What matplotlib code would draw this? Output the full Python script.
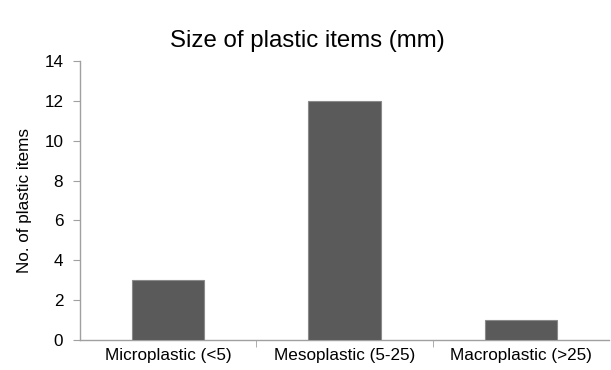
import matplotlib.pyplot as plt
import numpy as np

plt.rcParams['font.family'] = ['Liberation Sans', 'DejaVu Sans']

categories = ['Microplastic (<5)', 'Mesoplastic (5-25)', 'Macroplastic (>25)']
counts = [3, 12, 1]
yticks = [0, 2, 4, 6, 8, 10, 12, 14]

fig = plt.figure(figsize=(6.11, 3.70), dpi=100)
ax = fig.add_axes([0.131, 0.081, 0.866, 0.754])

x = np.arange(len(categories))
ax.bar(x, counts, width=0.41, color='#5a5a5a', edgecolor='#8a8a8a', linewidth=0.8, zorder=3)

ax.set_xlim(-0.5, len(categories) - 0.5)
ax.set_ylim(0, 14)
ax.set_yticks(yticks)
ax.set_xticks(x)
ax.set_xticklabels(categories, fontsize=12.3)
ax.tick_params(axis='x', length=0, pad=6)
ax.set_xticks(np.arange(len(categories) - 1) + 0.5, minor=True)
ax.tick_params(axis='x', which='minor', length=5, color='#a0a0a0', direction='out')
ax.tick_params(axis='y', length=5, color='#a0a0a0', labelsize=12.3, pad=7)

for s in ['top', 'right']:
    ax.spines[s].set_visible(False)
for s in ['left', 'bottom']:
    ax.spines[s].set_color('#a0a0a0')
    ax.spines[s].set_linewidth(1)

ax.set_ylabel('No. of plastic items', fontsize=12.3, labelpad=9)
fig.text(0.503, 0.89, 'Size of plastic items (mm)', fontsize=17.3, ha='center', va='center')

fig.savefig('out.png', dpi=100)
